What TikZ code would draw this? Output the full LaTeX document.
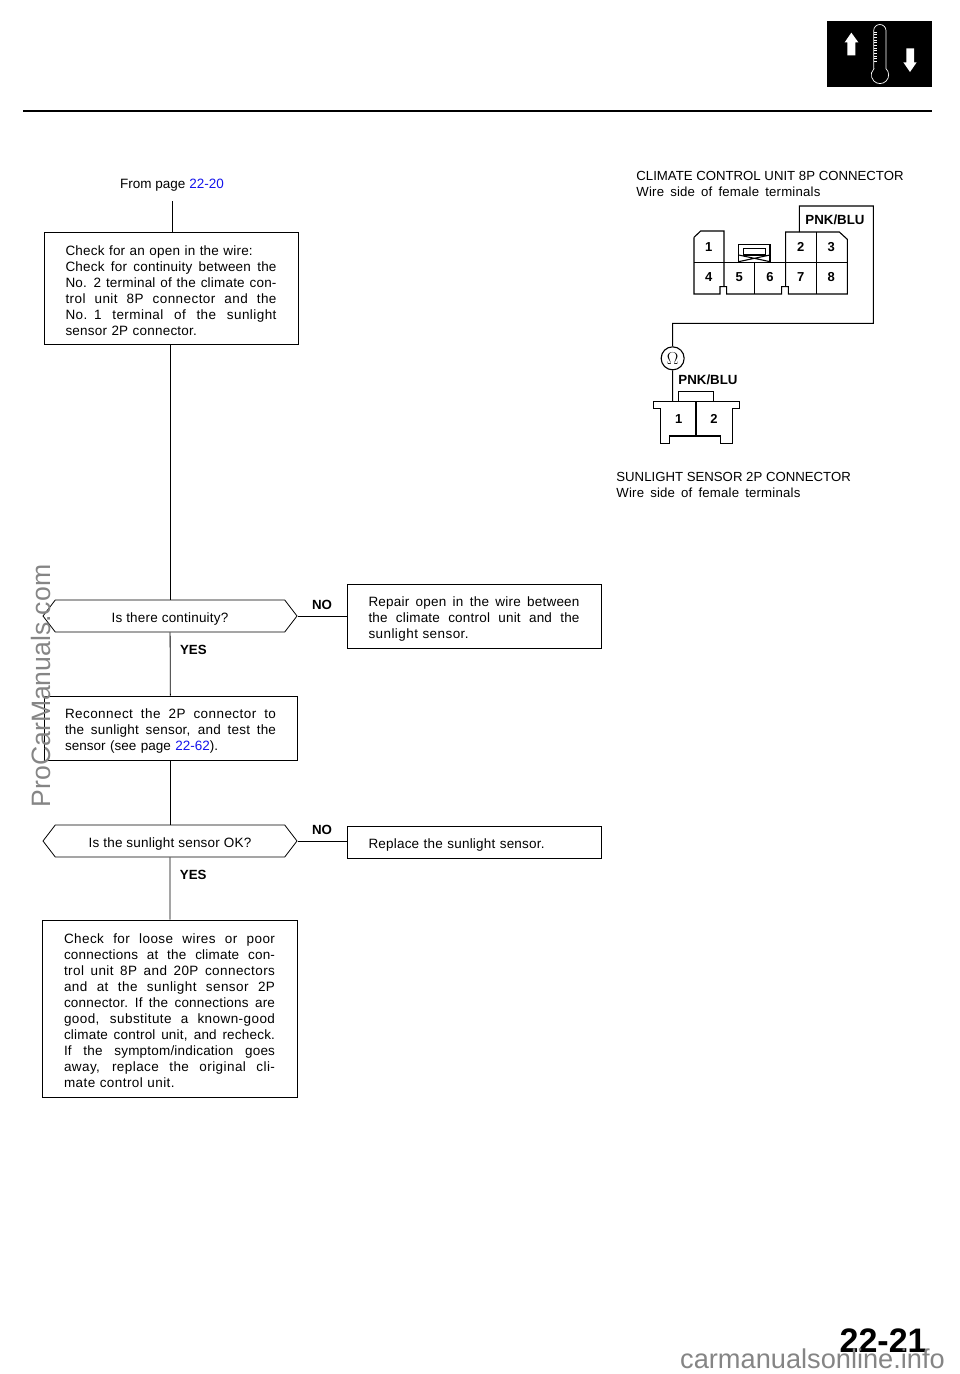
\documentclass[tikz,border=0pt]{standalone}
\usepackage{fontspec}
\setmainfont{Liberation Sans}
\newfontfamily\spacedfont[LetterSpace=1.5]{Liberation Sans}
\newfontfamily\widefont[LetterSpace=3.2]{Liberation Sans}
\usepackage{tikz}
\usetikzlibrary{shapes.symbols}

\definecolor{linkblue}{RGB}{20,20,235}
\newcommand{\bodyfont}{\fontsize{13.5}{16}\selectfont}
\newcommand{\fl}[2][\hsize]{\makebox[#1][s]{\spacedfont\spaceskip=.3em plus 1fil\relax #2}}
\newcommand{\wl}[1]{\makebox[\hsize][s]{\widefont\spaceskip=.3em plus 1fil\relax #1}}
\newcommand{\pagelink}[1]{\textcolor{linkblue}{#1}}

\begin{document}
\begin{tikzpicture}[x=1pt,y=-1pt,line width=.8pt,
                stepbox/.style={draw,font=\bodyfont,align=left,text width=211pt,inner xsep=0pt,inner ysep=0pt,minimum width=254pt,execute at begin node={\rule{0pt}{15pt}}},
                question/.style={draw,font=\bodyfont\spacedfont,signal,signal to=west and east,signal pointer angle=105,inner sep=0pt,minimum width=254pt,minimum height=32pt,execute at begin node={\rule{0pt}{15pt}}},
                caption/.style={font=\fontsize{13.2}{16}\selectfont,align=left,inner sep=0pt},
                flag/.style={font=\fontsize{13.3}{16}\selectfont\bfseries,inner sep=0pt},
                pinlabel/.style={font=\fontsize{13}{14}\selectfont\bfseries,inner sep=0pt},
                mark text/.style={text=black!48,inner sep=0pt}]
                \useasboundingbox (0,0) rectangle (960,1374);

                % page header
                \draw[line width=2.2pt] (23,111) -- (932,111);
                \begin{scope}[shift={(810,10)},scale=1/3]
                \fill[black] (52,32) rectangle (367,230);
                \fill[white] (124,68) -- (145,97) -- (136,97) -- (136,136) -- (112,136) -- (112,97) -- (104,97) -- cycle;
                \fill[white] (300,186) -- (320,157) -- (312,157) -- (312,115) -- (289,115) -- (289,157) -- (280,157) -- cycle;
                \draw[white,line width=.7pt] (191,176) -- (191,62) arc[start angle=180,end angle=360,radius=18.5] -- (228,176)
                arc[start angle=-46,end angle=226,radius=26] -- cycle;
                \foreach \tick in {66,74,...,154}
                \draw[white,line width=.6pt] (191,\tick) -- (201,\tick);
                \end{scope}

                % flow chart
                \node[font=\bodyfont,inner sep=0pt] (from) at (172,185.5) {From page \pagelink{22-20}};
                \coordinate (start) at (172,201);
                \node[stepbox,minimum height=112pt] (open) at (171,288) {{\spacedfont Check for an open in the wire:}\\\fl{Check for continuity between the}\\\fl{No. 2 terminal of the climate con-}\\\wl{trol unit 8P connector and the}\\\wl{No. 1 terminal of the sunlight}\\{\spacedfont sensor 2P connector.}};
                \node[question] (cont) [below of=open,node distance=328pt,xshift=-1pt] {Is there continuity?};
                \node[stepbox,minimum height=64pt] (repair) [right of=cont,node distance=304pt] {\fl{Repair open in the wire between}\\\fl{the climate control unit and the}\\{\widefont sunlight sensor.}};
                \node[stepbox,minimum height=64pt,minimum width=253pt] (reconnect) [below of=cont,node distance=112pt,xshift=.5pt] {\wl{Reconnect the 2P connector to}\\\fl{the sunlight sensor, and test the}\\sensor (see page \pagelink{22-62}).};
                \node[question] (sensor) [below of=reconnect,node distance=113pt,xshift=-.5pt] {Is the sunlight sensor OK?};
                \node[stepbox,minimum height=32pt] (replace) [right of=sensor,node distance=304pt,yshift=-1pt] {{\spacedfont Replace the sunlight sensor.}};
                \node[stepbox,minimum height=177pt,minimum width=255pt] (final) [below of=sensor,node distance=167.5pt,xshift=-.5pt] {\wl{Check for loose wires or poor}\\\fl{connections at the climate con-}\\\wl{trol unit 8P and 20P connectors}\\\wl{and at the sunlight sensor 2P}\\\fl{connector. If the connections are}\\\wl{good, substitute a known-good}\\\fl{climate control unit, and recheck.}\\\fl{If the symptom/indication goes}\\\wl{away, replace the original cli-}\\{\widefont mate control unit.}};

                \path
                (start) edge (start |- open.north)
                (cont.north |- open.south) edge (cont.north)
                (cont) edge node[flag,pos=.28,right=9.5pt] (yes1) {YES} (reconnect)
                (cont.east) edge node[flag,above=6pt] (no1) {NO} (repair.west)
                (sensor.north |- reconnect.south) edge (sensor.north)
                (sensor) edge node[flag,pos=.28,right=9.5pt] (yes2) {YES} (sensor.south |- final.north)
                (sensor.east) edge node[flag,above=6pt] (no2) {NO} (sensor.east -| replace.west)
                ;

                % connector views
                \node[caption,anchor=west] (unitcap) at (636,184) {CLIMATE CONTROL UNIT 8P CONNECTOR\\\fl[184pt]{Wire side of female terminals}};
                \node[caption,anchor=west] (sensorcap) at (616,485) {SUNLIGHT SENSOR 2P CONNECTOR\\\fl[184pt]{Wire side of female terminals}};
                \begin{scope}[shift={(600,150)},scale=1/3,line width=1.1pt]
                \draw (282,262) -- (302,243) -- (372,243) -- (372,410);
                \draw (282,262) -- (282,432) -- (360,432) -- (360,410) -- (380,410) -- (380,432) -- (545,432) -- (545,410) -- (565,410) -- (565,432) -- (742,432) -- (742,268) -- (718,246) -- (557,246) -- (557,410);
                \draw (282,337) -- (742,337);
                \draw (464,337) -- (464,432);
                \draw (649,246) -- (649,432);
                \draw (416,337) -- (416,284) -- (510,284) -- (510,337);
                \draw (430,296) rectangle (497,315);
                \draw (416,315) -- (510,335) (416,335) -- (510,315);
                \foreach \num/\px/\py in {1/326/292,2/602/292,3/694/292,4/326/382,5/418/382,6/510/382,7/602/382,8/694/382}
                \node[pinlabel] (unit\num) at (\px,\py) {\num};

                \draw (160,755) -- (418,755) -- (418,775) -- (398,775) -- (398,880) -- (362,880) -- (362,858) -- (208,858) -- (208,880) -- (182,880) -- (182,775) -- (160,775) -- cycle;
                \draw (236,755) -- (236,724) -- (340,724) -- (340,755);
                \draw (288,755) -- (288,858);
                \node[pinlabel] (sensor1) at (236,806) {1};
                \node[pinlabel] (sensor2) at (342,806) {2};

                \coordinate (unitpin) at (598,246);
                \coordinate (sensorpin) at (218,755);
                \node[draw,circle,inner sep=0pt,minimum size=23pt,font=\fontsize{16}{16}\selectfont] (ohm) at (218,625) {$\Omega$};
                \node[flag] (unitwire) at (705,209) {PNK/BLU};
                \node[flag] (sensorwire) at (324,689) {PNK/BLU};
                \draw (unitpin) -- (598,168) -- (820,168) -- (820,520) -- (218,520) -- (ohm);
                \draw (ohm) -- (sensorpin);
                \end{scope}

                % page number and marks
                \node[font=\fontsize{34}{36}\selectfont\bfseries,inner sep=0pt,anchor=base east] (pagenum) at (927,1352) {22-21};
                \node[mark text,font=\fontsize{26.6}{28}\selectfont,rotate=90] (sidemark) at (41,686) {ProCarManuals.com};
                \node[mark text,font=\fontsize{27.2}{28}\selectfont,anchor=base] (footmark) at (812.5,1368) {carmanualsonline.info};
                \end{tikzpicture}
\end{document}
